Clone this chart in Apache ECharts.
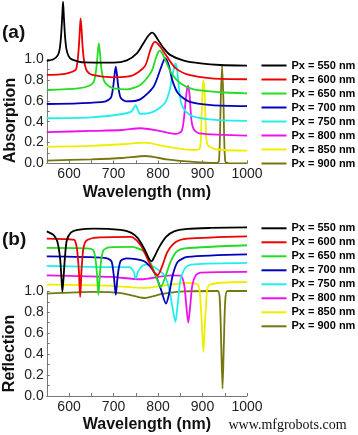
<!DOCTYPE html>
<html>
<head>
<meta charset="utf-8">
<script src="https://cdn.jsdelivr.net/npm/echarts@6/dist/echarts.min.js"></script>
<style>
html,body{margin:0;padding:0;background:#fff;}
#chart{width:358px;height:435px;}
</style>
</head>
<body>
<div id="chart"></div>
<script>
// ---------- Data (wavelength nm, offset value) ----------
const legendNames = ['Px = 550 nm','Px = 600 nm','Px = 650 nm','Px = 700 nm','Px = 750 nm','Px = 800 nm','Px = 850 nm','Px = 900 nm'];
const seriesColors = ['#000000','#ee0000','#22dd22','#0000bb','#22eeee','#ee11ee','#eeee00','#777711'];
const xTicks = [600,700,800,900,1000];

// Panel (a): Absorption (stacked with offsets)
const abs550 = [[550,0.984],[565,1.0],[575,1.04],[579,1.10],[582,1.22],[584.5,1.40],[586.5,1.555],[588.5,1.40],[591,1.22],[594,1.10],[599,1.03],[606,1.0],[634,0.97],[700,0.968],[730,0.99],[753,1.06],[768,1.16],[776,1.215],[782,1.245],[787,1.256],[792,1.24],[798,1.20],[813,1.105],[828,1.04],[858,0.987],[896,0.96],[940,0.945],[1000,0.94]];
const abs600 = [[550,0.85],[580,0.855],[600,0.87],[615,0.90],[619,0.98],[622,1.12],[624.5,1.30],[626,1.394],[628,1.30],[630.5,1.12],[634,0.98],[640,0.89],[652,0.85],[700,0.827],[740,0.84],[770,0.93],[782,1.08],[788,1.145],[793,1.167],[798,1.155],[805,1.12],[820,1.026],[840,0.913],[870,0.85],[920,0.817],[1000,0.808]];
const abs650 = [[550,0.705],[620,0.72],[648,0.75],[656,0.79],[661,0.90],[664.5,1.06],[667,1.154],[669.5,1.06],[673,0.90],[679,0.79],[688,0.745],[700,0.72],[730,0.71],[760,0.753],[785,0.88],[795,1.01],[800,1.065],[804,1.083],[809,1.06],[815,1.01],[830,0.865],[850,0.77],[880,0.71],[940,0.683],[1000,0.673]];
const abs700 = [[550,0.57],[620,0.577],[680,0.593],[694,0.63],[699,0.73],[702.5,0.86],[705,0.93],[707.5,0.86],[711,0.73],[716,0.63],[728,0.595],[760,0.615],[790,0.737],[805,0.90],[811,0.97],[816,1.01],[820,0.99],[825,0.93],[832,0.80],[845,0.673],[870,0.593],[920,0.56],[1000,0.55]];
const abs750 = [[550,0.433],[650,0.442],[720,0.474],[740,0.497],[745,0.53],[750,0.558],[754,0.52],[760,0.475],[790,0.497],[815,0.577],[826,0.70],[833,0.86],[838,0.945],[840,0.96],[843,0.90],[847,0.72],[852,0.58],[862,0.50],[880,0.449],[930,0.417],[1000,0.407]];
const abs800 = [[550,0.30],[650,0.311],[720,0.32],[760,0.337],[800,0.314],[840,0.282],[853,0.31],[858,0.42],[862,0.60],[866,0.735],[868,0.744],[871,0.65],[875,0.42],[880,0.33],[892,0.288],[1000,0.266]];
const abs850 = [[550,0.16],[650,0.168],[720,0.183],[770,0.199],[820,0.16],[880,0.128],[894,0.145],[897.5,0.40],[900,0.70],[902,0.80],[904.5,0.70],[907,0.40],[911,0.18],[930,0.135],[1000,0.122]];
const abs900 = [[550,0.026],[650,0.038],[720,0.051],[772,0.07],[820,0.038],[880,0.013],[930,0.003],[937,0.02],[941,0.61],[944,0.94],[947,0.61],[951,0.02],[960,0.0],[1000,0.0]];

// Panel (b): Reflection (stacked with offsets)
const ref550 = [[550,1.573],[566,1.535],[574,1.47],[580,1.31],[583,1.12],[585,0.994],[587.5,1.12],[590.5,1.31],[595,1.487],[604,1.561],[619,1.586],[656,1.599],[716,1.586],[739,1.561],[754,1.51],[769,1.408],[780,1.31],[785.5,1.287],[791.5,1.328],[803,1.424],[818,1.519],[836,1.573],[866,1.596],[919,1.605],[1000,1.611]];
const ref600 = [[550,1.503],[600,1.497],[612,1.49],[618,1.40],[622,1.20],[625,0.946],[628,1.20],[632,1.40],[638,1.48],[656,1.51],[739,1.519],[761,1.44],[776,1.312],[791,1.185],[799,1.153],[810,1.248],[821,1.376],[840,1.471],[866,1.503],[1000,1.525]];
const ref650 = [[550,1.414],[640,1.41],[655,1.39],[661,1.25],[664,1.08],[666,0.968],[668,1.08],[671,1.25],[677,1.39],[690,1.42],[740,1.424],[765,1.39],[780,1.30],[795,1.15],[806,1.04],[815,1.12],[828,1.28],[842,1.38],[860,1.41],[1000,1.44]];
const ref700 = [[550,1.334],[680,1.32],[695,1.29],[700,1.17],[703,1.04],[705,0.968],[707,1.04],[710,1.17],[716,1.29],[730,1.315],[769,1.287],[791,1.185],[806,1.025],[818,0.882],[825,0.978],[833,1.153],[844,1.28],[866,1.328],[1000,1.353]];
const ref750 = [[550,1.242],[700,1.23],[735,1.23],[745,1.19],[750,1.121],[755,1.19],[765,1.245],[776,1.255],[791,1.232],[814,1.153],[825,1.025],[833,0.834],[839,0.707],[844,0.866],[851,1.121],[863,1.232],[881,1.258],[1000,1.271]];
const ref800 = [[550,1.153],[694,1.137],[761,1.115],[829,1.153],[851,1.15],[859,1.057],[863.5,0.866],[868,0.70],[872.5,0.866],[877,1.057],[885,1.153],[896,1.178],[1000,1.185]];
const ref850 = [[550,1.064],[680,1.055],[769,1.032],[820,1.06],[866,1.08],[890,1.06],[896.5,0.834],[899.5,0.6],[902,0.42],[904.5,0.6],[907.5,0.834],[915,1.06],[1000,1.089]];
const ref900 = [[550,0.978],[656,0.994],[720,0.98],[769,0.936],[810,0.975],[859,1.0],[934,1.003],[939,0.9],[942,0.5],[945,0.07],[948,0.5],[951,0.9],[956,1.003],[1000,1.003]];

const absData = [abs550,abs600,abs650,abs700,abs750,abs800,abs850,abs900];
const refData = [ref550,ref600,ref650,ref700,ref750,ref800,ref850,ref900];

// ---------- Chart ----------
const FONT = "'Liberation Sans', Arial, sans-serif";
const chart = echarts.init(document.getElementById('chart'), null, {renderer:'canvas'});

const L = 46.8, R = 358 - 247;
function dataX(gridIndex){
  return {
    gridIndex, type:'value', min:550, max:1000, interval:50,
    axisLine:{show:true, lineStyle:{color:'#777', width:1}},
    axisTick:{show:true, inside:true, length:3, lineStyle:{color:'#777'}},
    axisLabel:{margin:4, fontSize:14, color:'#222', fontFamily:FONT,
      formatter: v => xTicks.includes(v) ? String(v) : ''},
    splitLine:{show:false},
    name:'Wavelength (nm)', nameLocation:'middle', nameGap:21,
    nameTextStyle:{fontSize:16, fontWeight:'bold', color:'#111', fontFamily:FONT}
  };
}
function hiddenX(gridIndex){
  return {gridIndex, type:'value', min:550, max:1000, show:false};
}
function hiddenY(gridIndex, max){
  return {gridIndex, type:'value', min:0, max, show:false};
}
function labelY(gridIndex){
  return {
    gridIndex, type:'value', min:0, max:1, interval:0.1,
    axisLine:{show:true, lineStyle:{color:'#777', width:1}},
    axisTick:{show:true, inside:true, length:3, lineStyle:{color:'#777'}},
    axisLabel:{margin:3, fontSize:14, color:'#222', fontFamily:FONT,
      formatter: v => (Math.round(v*10) % 2 === 0) ? v.toFixed(1) : ''},
    splitLine:{show:false}
  };
}

const series = [];
absData.forEach((d,i) => series.push({
  name: legendNames[i], type:'line', xAxisIndex:0, yAxisIndex:0, data:d,
  showSymbol:false, symbol:'none', smooth:0.25, color:seriesColors[i],
  lineStyle:{width:1.8, color:seriesColors[i]}, z: 10 - i
}));
refData.forEach((d,i) => series.push({
  name: legendNames[i], type:'line', xAxisIndex:2, yAxisIndex:2, data:d,
  showSymbol:false, symbol:'none', smooth:0.25, color:seriesColors[i],
  lineStyle:{width:1.8, color:seriesColors[i]}, z: 10 - i
}));

function legend(top){
  return {
    data: legendNames, orient:'vertical', left:261.5, top, padding:0,
    itemWidth:25, itemHeight:2, itemGap:3, icon:'rect',
    selectedMode:false,
    textStyle:{fontSize:11, fontWeight:'bold', color:'#000', fontFamily:FONT}
  };
}

chart.setOption({
  animation:false,
  backgroundColor:'#fff',
  grid:[
    {left:L, right:R, top:0, height:163.3},
    {left:L, right:R, top:59.3, height:104},
    {left:L, right:R, top:224, height:172},
    {left:L, right:R, top:291.3, height:104.7}
  ],
  xAxis:[dataX(0), hiddenX(1), dataX(2), hiddenX(3)],
  yAxis:[hiddenY(0, 163.3/104), labelY(1), hiddenY(2, 172/104.7), labelY(3)],
  legend:[legend(60), legend(222.8)],
  series,
  graphic:[
    {type:'text', left:2, top:23, style:{text:'(a)', font:"bold 19px 'Liberation Sans', Arial", fill:'#111'}},
    {type:'text', left:2, top:230, style:{text:'(b)', font:"bold 19px 'Liberation Sans', Arial", fill:'#111'}},
    {type:'text', x:11, y:120.5, rotation:Math.PI/2,
      style:{text:'Absorption', font:"bold 16px 'Liberation Sans', Arial", fill:'#111', align:'center', verticalAlign:'middle'}},
    {type:'text', x:10, y:353.5, rotation:Math.PI/2,
      style:{text:'Reflection', font:"bold 16px 'Liberation Sans', Arial", fill:'#111', align:'center', verticalAlign:'middle'}},
    {type:'text', x:287.5, y:425, style:{text:'www.mfgrobots.com', font:"14px 'Liberation Serif', 'Times New Roman', serif", fill:'#111', align:'center', verticalAlign:'middle'}}
  ]
});
</script>
</body>
</html>
